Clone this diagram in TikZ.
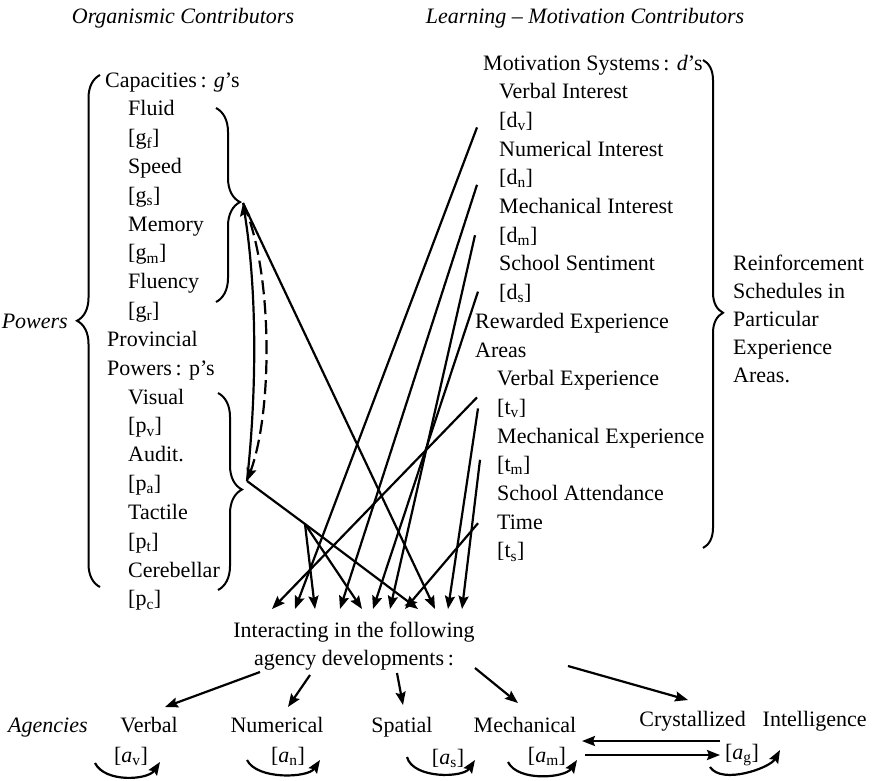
\documentclass[tikz,border=0pt]{standalone}
\usepackage{fontspec}
\setmainfont{Liberation Serif}
\usetikzlibrary{arrows.meta,calc,decorations.pathreplacing}
\newcommand{\txt}{\fontsize{22}{26}\selectfont}

\begin{document}
\begin{tikzpicture}[x=1pt,y=-1pt,
    item/.style={anchor=base west,inner sep=0pt,font=\txt},
    lbl/.style={anchor=base,inner sep=0pt,font=\txt},
    arr/.style={line width=2.2pt,-{Stealth[length=13pt,width=10pt,inset=2pt]}},
    brc/.style={line width=2pt,decorate,decoration={brace,amplitude=#1}}]
  \useasboundingbox (0,0) rectangle (875,780);

  % headings
  \node[lbl,font=\txt\itshape] (orgtitle) at (183,23) {Organismic Contributors};
  \node[lbl,font=\txt\itshape] (lmtitle) at (585,23) {Learning -- Motivation Contributors};

  % organismic column
  \foreach \t/\x [count=\i] in {{Capacities\,: \textit{g}’s}/105, Fluid/128,
      {[g\textsubscript{f}]}/128, Speed/128, {[g\textsubscript{s}]}/128, Memory/128,
      {[g\textsubscript{m}]}/128, Fluency/128, {[g\textsubscript{r}]}/128, Provincial/107,
      {Powers\,: p’s}/107, Visual/128, {[p\textsubscript{v}]}/128, Audit./128,
      {[p\textsubscript{a}]}/128, Tactile/128, {[p\textsubscript{t}]}/128, Cerebellar/128,
      {[p\textsubscript{c}]}/128}
    \node[item] (o\i) at (\x,{87+28.83*(\i-1)}) {\t};
  \node[anchor=base east,inner sep=0pt,font=\txt\itshape] (powers) at (68,328) {Powers};

  % learning - motivation column
  \foreach \t/\x [count=\i] in {{Motivation Systems\,: \textit{d}’s}/483, Verbal Interest/499,
      {[d\textsubscript{v}]}/499, Numerical Interest/499, {[d\textsubscript{n}]}/499,
      Mechanical Interest/499, {[d\textsubscript{m}]}/499, School Sentiment/499,
      {[d\textsubscript{s}]}/499, Rewarded Experience/475, Areas/475,
      Verbal Experience/497, {[t\textsubscript{v}]}/497, Mechanical Experience/497,
      {[t\textsubscript{m}]}/497, School Attendance/497, Time/497, {[t\textsubscript{s}]}/497}
    \node[item] (m\i) at (\x,{70+28.7*(\i-1)}) {\t};
  \foreach \t [count=\i] in {Reinforcement, Schedules in, Particular, Experience, Areas.}
    \node[item] (rs\i) at (733,{270+28*(\i-1)}) {\t};

  % braces
  \draw[brc=23,decoration={aspect=0.52}] (100,587) -- (100,75);
  \draw[brc=24,decoration={aspect=0.485}] (216,108) -- (216,302);
  \draw[brc=24,decoration={aspect=0.49}] (218,393) -- (218,590);
  \draw[brc=20,decoration={aspect=0.518}] (703,60) -- (703,548);

  % g and p points
  \coordinate (gpt) at (243,203);
  \coordinate (ppt) at (247,481);
  \coordinate (pb) at (305,524);
  \draw[arr] (ppt) .. controls (257,390) and (257,290) .. (gpt);
  \draw[arr,dash pattern=on 14pt off 6pt] (gpt) .. controls (273,270) and (273,410) .. (ppt);

  % sources on the right
  \coordinate (s1) at ($(m3.base west)+(-22,0)$);
  \coordinate (s2) at ($(m5.base west)+(-22,0)$);
  \coordinate (s3) at ($(m7.base west)+(-24,-7)$);
  \coordinate (s4) at ($(m9.base west)+(-21,-8)$);
  \coordinate (s5) at ($(m13.base west)+(-20,-17)$);
  \coordinate (s6) at ($(m13.base west)+(-19,-6)$);
  \coordinate (s7) at ($(m15.base west)+(-17,-12)$);
  \coordinate (s8) at ($(m17.base west)+(-19,-6)$);

  % arrow ends above the interaction
  \foreach \x [count=\i] in {272,295,315,340,362,373,390,405,418,435,448,462}
    \coordinate (t\i) at (\x,609);

  \draw[arr] (s5) -- (t1);
  \draw[arr] (s1) -- (t2);
  \draw[arr] (s2) -- (t4);
  \draw[arr] (s4) -- (t6);
  \draw[arr] (s3) -- (t7);
  \draw[arr] (s8) -- (t8);
  \draw[arr] (s6) -- (t11);
  \draw[arr] (s7) -- (t12);
  \draw[arr] (gpt) -- (t10);
  \draw[arr] (ppt) -- (pb) -- (t9);
  \draw[arr] (pb) -- (t3);
  \draw[arr] (pb) -- (t5);

  % interaction
  \node[lbl] (int) at (354,637) {Interacting in the following};
  \node[lbl] (dev) at (354,665) {agency developments\,:};

  % agencies
  \node[anchor=base west,inner sep=0pt,font=\txt\itshape] (agn) at (8,732) {Agencies};
  \node[lbl] (verbal) at (149,732) {Verbal};
  \node[lbl] (numerical) at (277,732) {Numerical};
  \node[lbl] (spatial) at (402,732) {Spatial};
  \node[lbl] (mechanical) at (525,732) {Mechanical};
  \node[lbl] (cryst) at (753,726) {Crystallized\hspace{17pt}Intelligence};
  \node[lbl] (av) at (131,762) {[\textit{a}\textsubscript{v}]};
  \node[lbl] (an) at (288,762) {[\textit{a}\textsubscript{n}]};
  \node[lbl] (as) at (448,764) {[\textit{a}\textsubscript{s}]};
  \node[lbl] (am) at (547,762) {[\textit{a}\textsubscript{m}]};
  \node[lbl] (ag) at (742,759) {[\textit{a}\textsubscript{g}]};

  \draw[arr] ($(dev.base)+(-94,7)$) -- ($(verbal.base)+(16,-25)$);
  \draw[arr] ($(dev.base)+(-44,10)$) -- ($(numerical.base)+(11,-25)$);
  \draw[arr] ($(dev.base)+(43,8)$) -- ($(spatial.base)+(1,-27)$);
  \draw[arr] ($(dev.base)+(121,3)$) -- ($(mechanical.base)+(-7,-29)$);
  \draw[arr] ($(dev.base)+(214,1)$) -- ($(cryst.base)+(-65,-26)$);

  % self development loops
  \draw[arr] ($(av.base)+(-36,1)$) .. controls +(10,20) and +(-12,18) .. ($(av.base)+(29,0)$);
  \draw[arr] ($(an.base)+(-41,-2)$) .. controls +(10,20) and +(-12,18) .. ($(an.base)+(32,-2)$);
  \draw[arr] ($(as.base)+(-41,-7)$) .. controls +(6,22) and +(-12,18) .. ($(as.base)+(27,-4)$);
  \draw[arr] ($(am.base)+(-39,0)$) .. controls +(10,20) and +(-12,18) .. ($(am.base)+(30,-2)$);
  \draw[arr] ($(ag.base)+(-32,8)$) .. controls +(12,18) and +(-10,18) .. ($(ag.base)+(38,-9)$);

  % mechanical and crystallized
  \draw[arr] ($(ag.base)+(-22,-18)$) -- ($(am.base)+(35,-21)$);
  \draw[arr] ($(am.base)+(38,-7)$) -- ($(ag.base)+(-22,-4)$);
\end{tikzpicture}
\end{document}
